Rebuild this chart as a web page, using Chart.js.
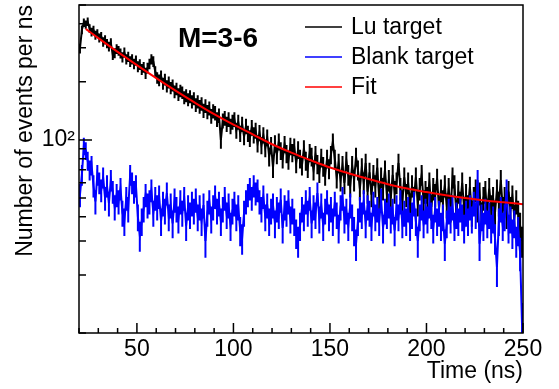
<!DOCTYPE html>
<html>
<head>
<meta charset="utf-8">
<script src="https://cdn.jsdelivr.net/npm/chart.js@4.4.1/dist/chart.umd.min.js"></script>
<style>
  body { margin: 0; background: #fff; }
  #wrap { width: 559px; height: 389px; }
</style>
</head>
<body>
<div id="wrap"><canvas id="timeChart"></canvas></div>
<script>
// histogram binning (ns)
const binStart = 20;
const binWidth = 1;

// Lu target, events per ns, one value per 1 ns bin from 20 to 250 ns
const luTarget = [
  298, 372, 405, 396, 410, 378, 362, 371, 349, 356,
  338, 344, 322, 330, 316, 305, 318, 276, 282, 296,
  290, 281, 268, 284, 262, 270, 255, 262, 248, 258,
  240, 246, 232, 238, 222, 236, 248, 262, 255, 226,
  210, 204, 214, 196, 206, 190, 199, 186, 192, 178,
  184, 172, 180, 176, 166, 170, 162, 168, 158, 164,
  152, 158, 149, 154, 142, 150, 140, 146, 133, 141,
  138, 128, 134, 100, 126, 130, 121, 128, 118, 124,
  128, 112, 124, 108, 121, 104, 118, 108, 102, 116,
  106, 112, 96, 109, 94, 106, 91, 103, 82, 94,
  72, 96, 84, 98, 88, 80, 95, 85, 79, 93,
  86, 92, 76, 89, 80, 74, 90, 78, 72, 86,
  82, 70, 84, 75, 68, 81, 73, 66, 80, 71,
  84, 98, 80, 64, 76, 62, 74, 60, 78, 66,
  58, 74, 62, 82, 70, 56, 72, 60, 76, 54,
  68, 52, 66, 58, 72, 50, 64, 56, 70, 52,
  62, 50, 66, 54, 60, 76, 56, 48, 64, 52,
  60, 46, 58, 50, 64, 47, 56, 66, 48, 54,
  50, 60, 45, 56, 52, 63, 44, 55, 48, 58,
  46, 56, 44, 64, 58, 42, 54, 47, 60, 44,
  52, 45, 57, 42, 50, 55, 44, 53, 41, 50,
  54, 43, 56, 45, 50, 42, 55, 47, 62, 44,
  50, 41, 54, 44, 51, 40, 48, 42, 36, 30
];

// Blank target, same bins
const blankTarget = [
  52, 66, 93, 88, 78, 70, 74, 58, 48, 66,
  60, 55, 64, 50, 58, 47, 62, 54, 45, 52,
  48, 56, 42, 38, 50, 44, 66, 60, 54, 58,
  40, 32, 38, 44, 52, 46, 48, 55, 42, 50,
  45, 51, 38, 47, 43, 53, 40, 46, 37, 49,
  44, 39, 48, 42, 50, 36, 45, 41, 47, 43,
  49, 40, 45, 38, 46, 30, 42, 48, 39, 45,
  51, 43, 47, 38, 44, 50, 41, 46, 36, 43,
  47, 40, 45, 34, 31, 42, 48, 52, 56, 50,
  58, 53, 55, 48, 44, 51, 40, 46, 38, 43,
  46, 37, 44, 41, 49, 35, 45, 42, 48, 39,
  43, 38, 33, 30, 36, 44, 40, 48, 42, 50,
  37, 45, 41, 53, 39, 46, 36, 43, 48, 40,
  44, 38, 47, 41, 35, 45, 50, 39, 43, 36,
  46, 40, 34, 29, 38, 44, 41, 48, 37, 45,
  42, 36, 47, 40, 44, 38, 49, 35, 43, 41,
  46, 39, 43, 34, 45, 40, 48, 37, 42, 38,
  44, 36, 41, 47, 38, 30, 40, 45, 37, 43,
  39, 46, 41, 35, 44, 38, 42, 36, 40, 29,
  37, 43, 39, 45, 36, 41, 38, 44, 40, 35,
  42, 38, 45, 39, 47, 41, 62, 29, 40, 36,
  43, 37, 41, 35, 39, 31, 22, 38, 44, 36,
  40, 55, 35, 39, 33, 37, 30, 34, 26, 11
];

// fit curve
const fitTime = [23.5, 30, 40, 50, 60, 70, 80, 90, 100, 110, 120, 130, 140, 150, 160, 170, 180, 190, 200, 210, 220, 230, 240, 250];
const fitValues = [376, 337, 286, 244, 209, 180, 156, 136, 120, 107, 95, 86, 78.5, 72, 67, 62.7, 59, 56, 53.7, 51.7, 50, 48.6, 47.5, 46.5];

// axes
const xMajorTicks = [50, 100, 150, 200, 250];
const xMinorTicks = [20, 30, 40, 60, 70, 80, 90, 110, 120, 130, 140, 160, 170, 180, 190, 210, 220, 230, 240];
const yMajorTicks = [100];
const yMinorTicks = [10, 20, 30, 40, 50, 60, 70, 80, 90, 200, 300, 400, 500];
const yTickLabels = { 100: '10\u00b2' };

const FONT = "'Liberation Sans', Arial, Helvetica, sans-serif";

function toPoints(vals) {
  return vals.map((v, i) => ({ x: binStart + (i + 0.5) * binWidth, y: v }));
}

// poisson error bars drawn just before each histogram line
const errorBars = {
  id: 'errorBars',
  beforeDatasetDraw(chart, args) {
    const ds = chart.data.datasets[args.index];
    if (!ds.errorBars) return;
    const { ctx, chartArea: a, scales: { x, y } } = chart;
    ctx.save();
    ctx.beginPath();
    ctx.rect(a.left, a.top, a.right - a.left, a.bottom - a.top);
    ctx.clip();
    ctx.strokeStyle = ds.borderColor;
    ctx.lineWidth = 2;
    ctx.beginPath();
    ds.data.forEach(p => {
      const e = Math.sqrt(p.y);
      const px = x.getPixelForValue(p.x);
      ctx.moveTo(px, y.getPixelForValue(Math.max(p.y - e, 1)));
      ctx.lineTo(px, y.getPixelForValue(p.y + e));
    });
    ctx.stroke();
    ctx.restore();
  }
};

// frame, inward ticks, label and legend, ROOT style
const decorations = {
  id: 'decorations',
  afterDraw(chart) {
    const { ctx, chartArea: a, scales: { x, y } } = chart;
    ctx.save();
    ctx.strokeStyle = '#000';
    ctx.lineWidth = 1.5;
    ctx.strokeRect(a.left, a.top, a.right - a.left, a.bottom - a.top);

    ctx.beginPath();
    xMajorTicks.forEach(v => { const p = x.getPixelForValue(v); ctx.moveTo(p, a.bottom); ctx.lineTo(p, a.bottom - 10); });
    xMinorTicks.forEach(v => { const p = x.getPixelForValue(v); ctx.moveTo(p, a.bottom); ctx.lineTo(p, a.bottom - 5); });
    yMajorTicks.forEach(v => { const p = y.getPixelForValue(v); ctx.moveTo(a.left, p); ctx.lineTo(a.left + 13, p); });
    yMinorTicks.forEach(v => { const p = y.getPixelForValue(v); ctx.moveTo(a.left, p); ctx.lineTo(a.left + 7, p); });
    ctx.stroke();

    ctx.fillStyle = '#000';
    ctx.font = 'bold 28px ' + FONT;
    ctx.textAlign = 'center';
    ctx.textBaseline = 'alphabetic';
    ctx.fillText('M=3-6', 218, 47);

    // legend
    const order = [2, 1, 0];
    ctx.font = '23px ' + FONT;
    ctx.textAlign = 'left';
    ctx.textBaseline = 'middle';
    order.forEach((di, k) => {
      const ds = chart.data.datasets[di];
      const ly = 27 + k * 30;
      ctx.strokeStyle = ds.borderColor;
      ctx.lineWidth = 1.5;
      ctx.beginPath();
      ctx.moveTo(305, ly);
      ctx.lineTo(342, ly);
      ctx.stroke();
      ctx.fillStyle = '#000';
      ctx.fillText(ds.label, 351, ly + 1);
    });
    ctx.restore();
  }
};

new Chart(document.getElementById('timeChart'), {
  type: 'line',
  data: {
    datasets: [{
      label: 'Fit',
      data: fitTime.map((t, i) => ({ x: t, y: fitValues[i] })),
      borderColor: '#ff0000',
      borderWidth: 2,
      pointRadius: 0,
      cubicInterpolationMode: 'monotone'
    }, {
      label: 'Blank target',
      data: toPoints(blankTarget),
      borderColor: '#0000ff',
      borderWidth: 2,
      pointRadius: 0,
      errorBars: true
    }, {
      label: 'Lu target',
      data: toPoints(luTarget),
      borderColor: '#000000',
      borderWidth: 2,
      pointRadius: 0,
      errorBars: true
    }]
  },
  options: {
    responsive: true,
    maintainAspectRatio: false,
    animation: false,
    layout: { padding: { left: 0, top: 5, right: 36, bottom: 0 } },
    plugins: {
      legend: { display: false },
      tooltip: { enabled: false }
    },
    scales: {
      x: {
        type: 'linear',
        min: 20,
        max: 250,
        grid: { display: false },
        border: { display: false },
        afterFit(scale) { scale.height = 56; scale.paddingLeft = 0; scale.paddingRight = 0; },
        afterBuildTicks(scale) { scale.ticks = xMajorTicks.map(v => ({ value: v })); },
        ticks: {
          autoSkip: false,
          maxRotation: 0,
          padding: -5,
          color: '#000',
          font: { family: FONT, size: 23 },
          callback: v => String(v)
        },
        title: {
          display: true,
          text: 'Time (ns)',
          align: 'end',
          color: '#000',
          font: { family: FONT, size: 23 },
          padding: { top: 0, bottom: 4 }
        }
      },
      y: {
        type: 'logarithmic',
        min: 10,
        max: 500,
        grid: { display: false },
        border: { display: false },
        afterFit(scale) { scale.width = 79; scale.paddingTop = 0; scale.paddingBottom = 0; },
        afterBuildTicks(scale) { scale.ticks = yMajorTicks.map(v => ({ value: v })); },
        ticks: {
          autoSkip: false,
          padding: -4,
          color: '#000',
          font: { family: FONT, size: 23 },
          callback: v => yTickLabels[v] || ''
        },
        title: {
          display: true,
          text: 'Number of events per ns',
          align: 'end',
          color: '#000',
          font: { family: FONT, size: 23 },
          padding: { top: 12, bottom: 0 }
        }
      }
    }
  },
  plugins: [errorBars, decorations]
});
</script>
</body>
</html>
